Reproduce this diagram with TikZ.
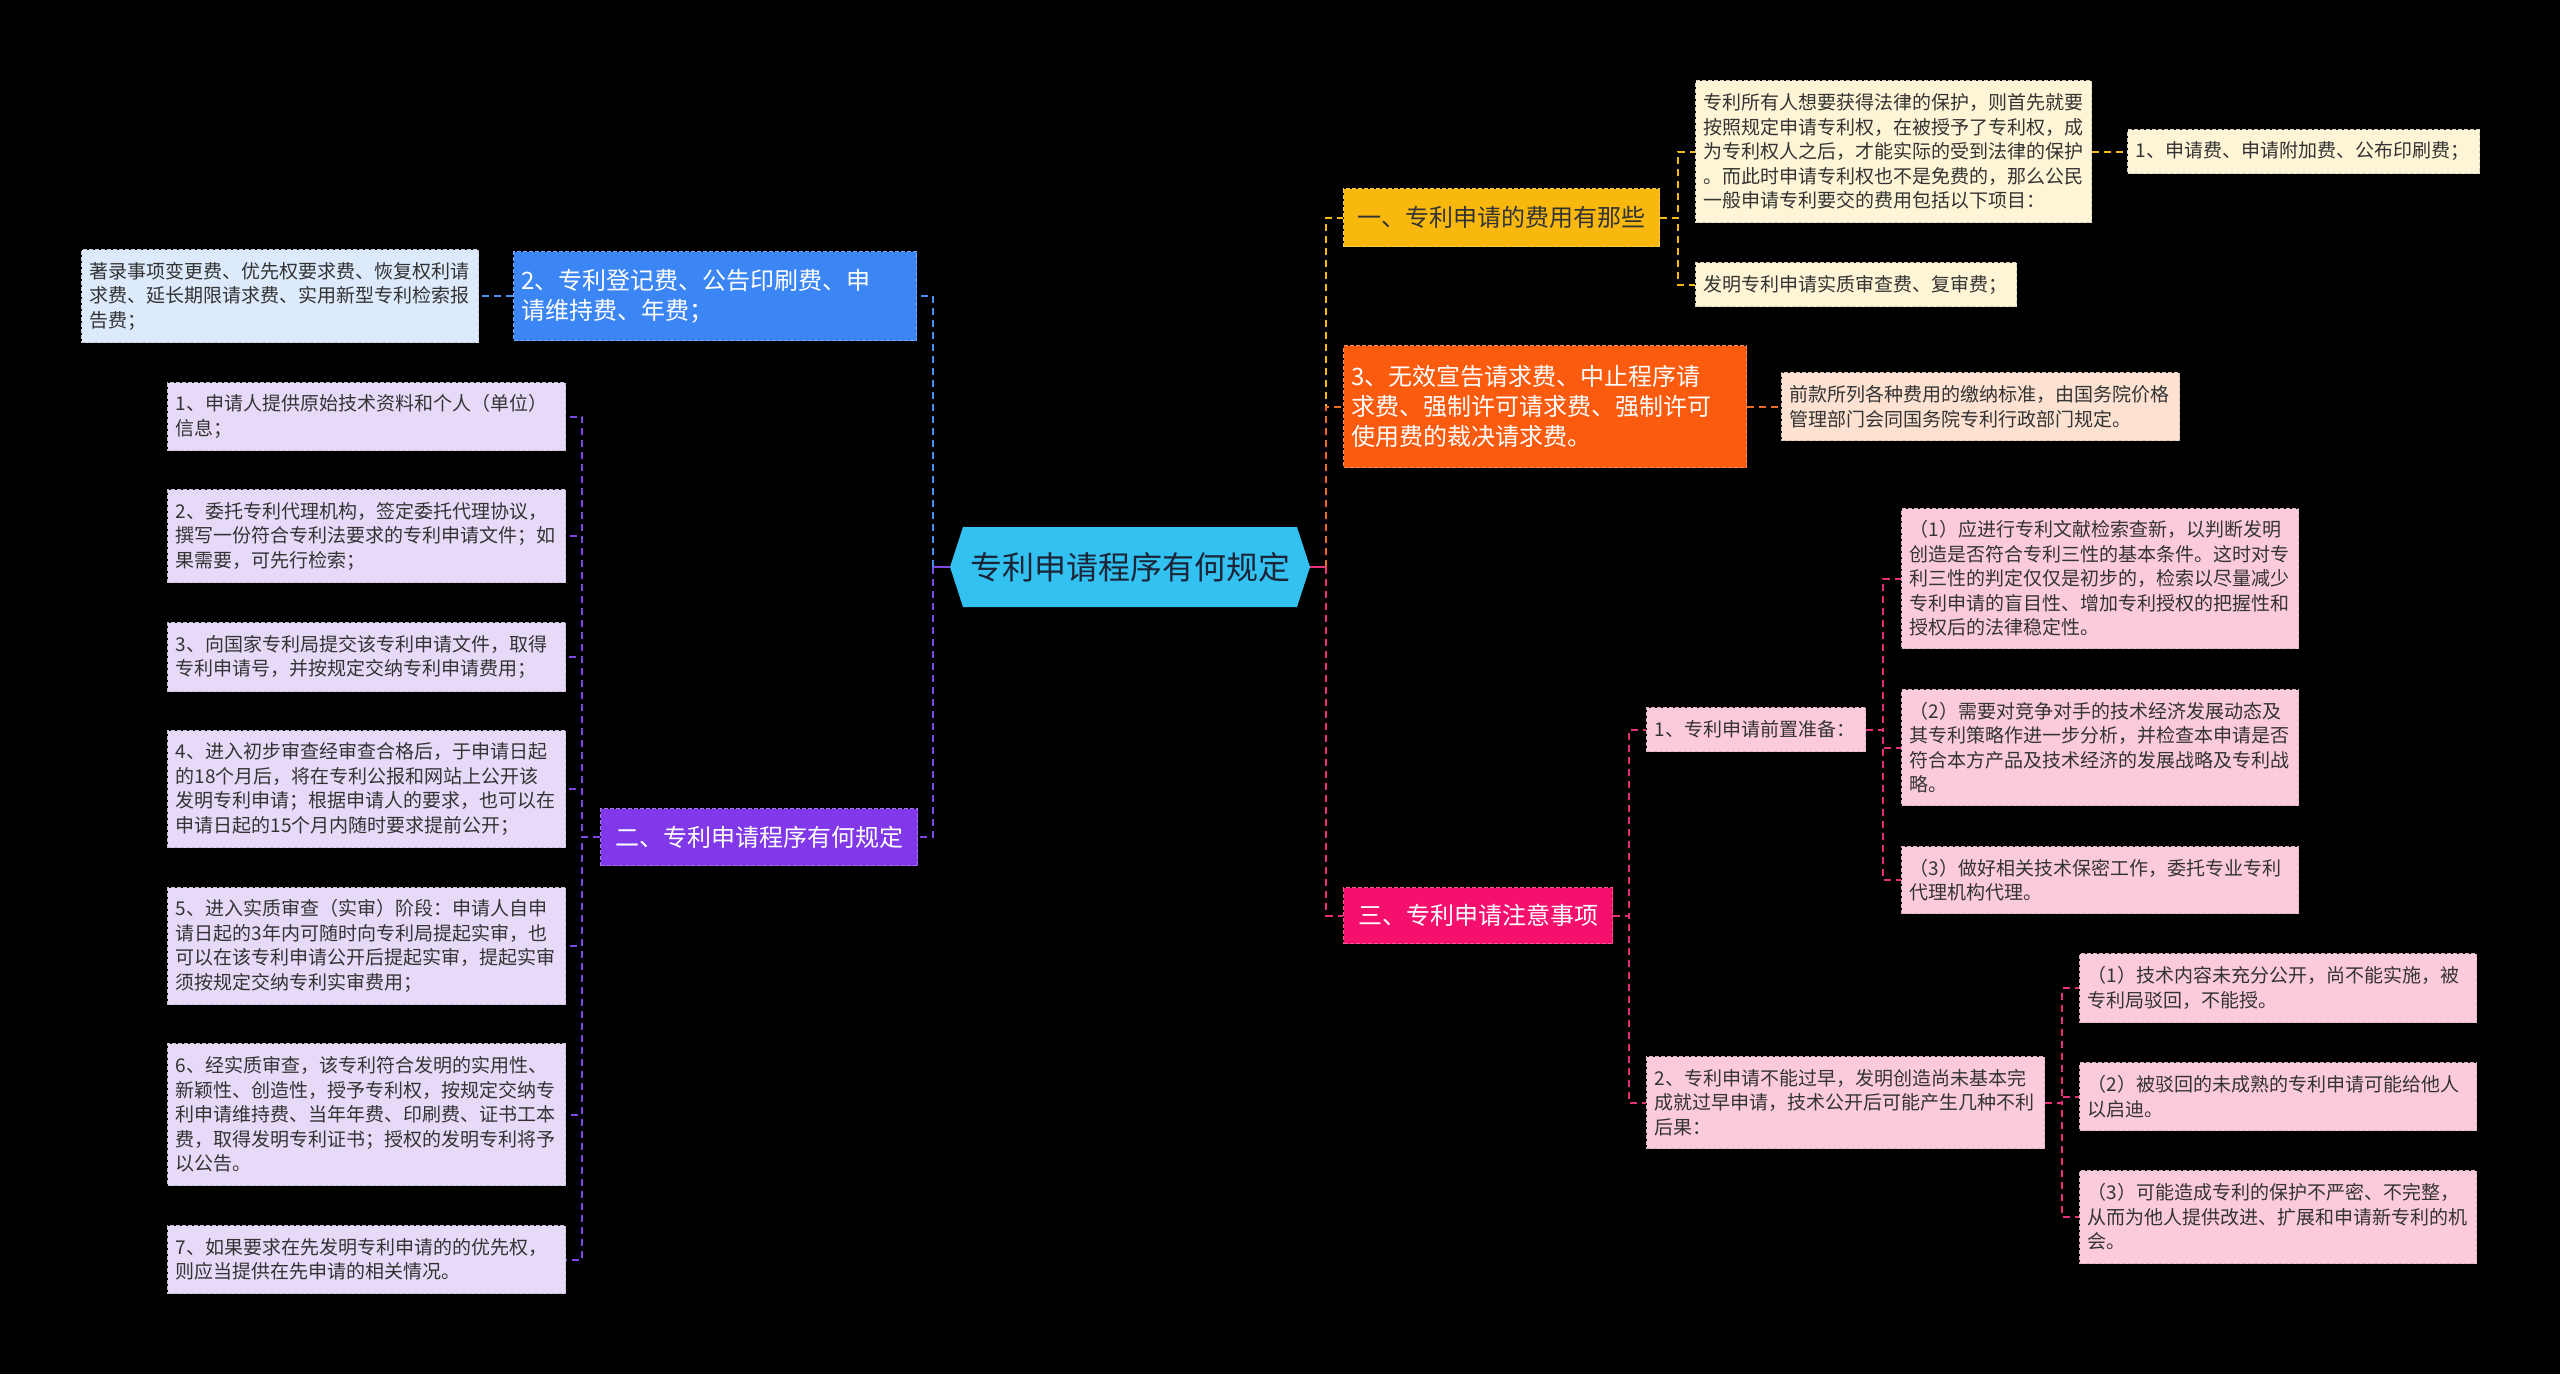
\documentclass[tikz,border=0pt]{standalone}
\usepackage{fontspec}
\setmainfont{Noto Sans CJK SC}
\definecolor{rootC}{HTML}{33C1F1}
\definecolor{rootT}{HTML}{1A2638}
\definecolor{yelN}{HTML}{F8B80E}
\definecolor{creamL}{HTML}{FEF5D6}
\definecolor{oraN}{HTML}{FB5B0F}
\definecolor{peachL}{HTML}{FDE2D2}
\definecolor{pinkN}{HTML}{F5106D}
\definecolor{pinkL}{HTML}{FCCADD}
\definecolor{bluN}{HTML}{3B86F4}
\definecolor{bluL}{HTML}{DCEAFB}
\definecolor{purN}{HTML}{8038E8}
\definecolor{lavL}{HTML}{E7DAF9}
\definecolor{txtD}{HTML}{333333}
\definecolor{lnY}{HTML}{F5B915}
\definecolor{lnO}{HTML}{EE6A2A}
\definecolor{lnP}{HTML}{E8307A}
\definecolor{lnB}{HTML}{4A8FF0}
\definecolor{lnV}{HTML}{7E48E2}
\tikzset{
  nb/.style={anchor=north west, align=left, inner xsep=8pt, inner ysep=0pt,
    line width=1pt, dash pattern=on 4pt off 2pt},
  sm/.style={nb, font=\fontsize{19}{24.5}\selectfont, text=txtD},
  lg/.style={nb, font=\fontsize{24}{30}\selectfont},
  cream/.style={sm, fill=creamL, draw=creamL!70!gray},
  peach/.style={sm, fill=peachL, draw=peachL!70!gray},
  pinkbox/.style={sm, fill=pinkL, draw=pinkL!70!gray},
  bluebox/.style={sm, fill=bluL, draw=bluL!70!gray},
  lavbox/.style={sm, fill=lavL, draw=lavL!70!gray},
  conn/.style={line width=2pt, dash pattern=on 7pt off 5pt},
  cY/.style={conn, draw=lnY},
  cO/.style={conn, draw=lnO},
  cP/.style={conn, draw=lnP},
  cB/.style={conn, draw=lnB},
  cV/.style={conn, draw=lnV},
}
\begin{document}
\begin{tikzpicture}[x=1pt,y=-1pt]
\useasboundingbox (0,0) rectangle (2560,1374);
\fill[black] (0,0) rectangle (2560,1374);

% root
\fill[rootC] (950,567) -- (963,527) -- (1297,527) -- (1310,567) -- (1297,607) -- (963,607) -- cycle;
\node[minimum width=360, minimum height=80, inner sep=0pt, text=rootT, font=\fontsize{32}{36}\selectfont] (root) at (1130,567) {专利申请程序有何规定};

\coordinate (tR) at (1326,567);
\coordinate (tL) at (933,567);

% ---------- right ----------
\node[lg, fill=yelN, draw=yelN!70!white, text=txtD, minimum width=316, minimum height=58, align=center] (n1) at (1343,188) {一、专利申请的费用有那些};
\node[cream, minimum width=396, minimum height=142, text width=380] (c11) at (1695,80) {专利所有人想要获得法律的保护，则首先就要\\按照规定申请专利权，在被授予了专利权，成\\为专利权人之后，才能实际的受到法律的保护\\。而此时申请专利权也不是免费的，那么公民\\一般申请专利要交的费用包括以下项目：};
\node[cream, minimum width=352, minimum height=44, text width=336] (c111) at (2127,129) {1、申请费、申请附加费、公布印刷费；};
\node[cream, minimum width=321, minimum height=44, text width=305] (c12) at (1695,262) {发明专利申请实质审查费、复审费；};

\node[lg, fill=oraN, draw=oraN!70!white, text=white, minimum width=403, minimum height=122, text width=387] (n3) at (1343,345) {3、无效宣告请求费、中止程序请\\求费、强制许可请求费、强制许可\\使用费的裁决请求费。};
\node[peach, minimum width=398, minimum height=68, text width=382] (c31) at (1781,372) {前款所列各种费用的缴纳标准，由国务院价格\\管理部门会同国务院专利行政部门规定。};

\node[lg, fill=pinkN, draw=pinkN!70!white, text=white, minimum width=269, minimum height=56, align=center] (nS) at (1343,887) {三、专利申请注意事项};
\node[pinkbox, minimum width=219, minimum height=44, text width=203] (s1) at (1646,707) {1、专利申请前置准备：};
\node[pinkbox, minimum width=397, minimum height=140, text width=381] (s11) at (1901,508) {（1）应进行专利文献检索查新，以判断发明\\创造是否符合专利三性的基本条件。这时对专\\利三性的判定仅仅是初步的，检索以尽量减少\\专利申请的盲目性、增加专利授权的把握性和\\授权后的法律稳定性。};
\node[pinkbox, minimum width=397, minimum height=116, text width=381] (s12) at (1901,689) {（2）需要对竞争对手的技术经济发展动态及\\其专利策略作进一步分析，并检查本申请是否\\符合本方产品及技术经济的发展战略及专利战\\略。};
\node[pinkbox, minimum width=397, minimum height=67, text width=381] (s13) at (1901,846) {（3）做好相关技术保密工作，委托专业专利\\代理机构代理。};
\node[pinkbox, minimum width=398, minimum height=92, text width=382] (s2) at (1646,1056) {2、专利申请不能过早，发明创造尚未基本完\\成就过早申请，技术公开后可能产生几种不利\\后果：};
\node[pinkbox, minimum width=397, minimum height=69, text width=381] (s21) at (2079,953) {（1）技术内容未充分公开，尚不能实施，被\\专利局驳回，不能授。};
\node[pinkbox, minimum width=397, minimum height=68, text width=381] (s22) at (2079,1062) {（2）被驳回的未成熟的专利申请可能给他人\\以启迪。};
\node[pinkbox, minimum width=397, minimum height=93, text width=381] (s23) at (2079,1170) {（3）可能造成专利的保护不严密、不完整，\\从而为他人提供改进、扩展和申请新专利的机\\会。};

% ---------- left ----------
\node[lg, fill=bluN, draw=bluN!70!white, text=white, minimum width=403, minimum height=89, text width=387] (b2) at (513,251) {2、专利登记费、公告印刷费、申\\请维持费、年费；};
\node[bluebox, minimum width=397, minimum height=93, text width=381] (b21) at (81,249) {著录事项变更费、优先权要求费、恢复权利请\\求费、延长期限请求费、实用新型专利检索报\\告费；};

\node[lg, fill=purN, draw=purN!70!white, text=white, minimum width=317, minimum height=57, align=center] (pv) at (600,808) {二、专利申请程序有何规定};
\node[lavbox, minimum width=398, minimum height=68, text width=382] (p1) at (167,382) {1、申请人提供原始技术资料和个人（单位）\\信息；};
\node[lavbox, minimum width=398, minimum height=93, text width=382] (p2) at (167,489) {2、委托专利代理机构，签定委托代理协议，\\撰写一份符合专利法要求的专利申请文件；如\\果需要，可先行检索；};
\node[lavbox, minimum width=398, minimum height=69, text width=382] (p3) at (167,622) {3、向国家专利局提交该专利申请文件，取得\\专利申请号，并按规定交纳专利申请费用；};
\node[lavbox, minimum width=398, minimum height=117, text width=382] (p4) at (167,730) {4、进入初步审查经审查合格后，于申请日起\\的18个月后，将在专利公报和网站上公开该\\发明专利申请；根据申请人的要求，也可以在\\申请日起的15个月内随时要求提前公开；};
\node[lavbox, minimum width=398, minimum height=117, text width=382] (p5) at (167,887) {5、进入实质审查（实审）阶段：申请人自申\\请日起的3年内可随时向专利局提起实审，也\\可以在该专利申请公开后提起实审，提起实审\\须按规定交纳专利实审费用；};
\node[lavbox, minimum width=398, minimum height=142, text width=382] (p6) at (167,1043) {6、经实质审查，该专利符合发明的实用性、\\新颖性、创造性，授予专利权，按规定交纳专\\利申请维持费、当年年费、印刷费、证书工本\\费，取得发明专利证书；授权的发明专利将予\\以公告。};
\node[lavbox, minimum width=398, minimum height=68, text width=382] (p7) at (167,1225) {7、如果要求在先发明专利申请的的优先权，\\则应当提供在先申请的相关情况。};

% ---------- connectors ----------
\draw[line width=2pt, lnP] (root.east) -- (tR);
\draw[cY] (tR) |- (n1.west);
\draw[cO] (tR) |- (n3.west);
\draw[cP] (tR) |- (nS.west);
\draw[cY] (n1.east) -- ++(18,0) |- (c11.west);
\draw[cY] (n1.east) -- ++(18,0) |- (c12.west);
\draw[cY] (c11.east) -- (c111.west);
\draw[cO] (n3.east) -- (c31.west);
\draw[cP] (nS.east) -- ++(16,0) |- (s1.west);
\draw[cP] (nS.east) -- ++(16,0) |- (s2.west);
\foreach \k in {s11,s12,s13} \draw[cP] (s1.east) -- ++(17,0) |- (\k.west);
\foreach \k in {s21,s22,s23} \draw[cP] (s2.east) -- ++(17,0) |- (\k.west);

\draw[line width=2pt, lnV] (root.west) -- (tL);
\draw[cB] (tL) |- (b2.east);
\draw[cV] (tL) |- (pv.east);
\draw[cB] (b2.west) -- (b21.east);
\foreach \k in {p1,p2,p3,p4,p5,p6,p7} \draw[cV] (pv.west) -- ++(-18,0) |- (\k.east);
\end{tikzpicture}
\end{document}
